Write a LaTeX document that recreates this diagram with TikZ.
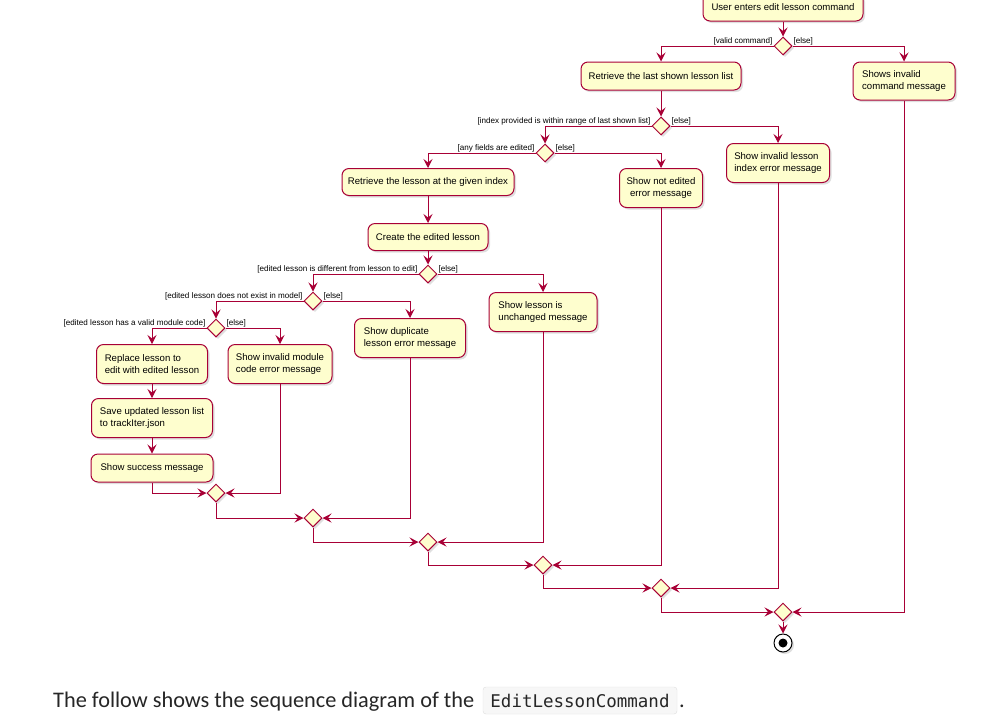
\documentclass[tikz,border=0pt]{standalone}
\usepackage{fontspec}
\setmainfont{Liberation Sans}
\newfontfamily\capfont{Carlito}
\newfontfamily\codefont{DejaVu Sans Mono}
\usetikzlibrary{shapes.geometric,arrows.meta,shadows}
\definecolor{umlred}{HTML}{A80036}
\definecolor{umlfill}{HTML}{FEFECE}
\tikzset{
  shad/.style={drop shadow={shadow xshift=2pt,shadow yshift=-2pt,opacity=0.25}},
  act/.style={draw=umlred, fill=umlfill, line width=1pt, rounded corners=7pt, inner sep=0pt,
    font=\fontsize{9.6}{11.5}\selectfont, align=left, shad},
  dia/.style={diamond, draw=umlred, fill=umlfill, line width=1pt, minimum width=18pt,
    minimum height=18pt, inner sep=0pt, shad},
  lbl/.style={font=\fontsize{8.1}{9.5}\selectfont, inner sep=0.8pt},
  flow/.style={draw=umlred, line width=0.9pt, -{Stealth[length=9pt,width=9pt,inset=3.5pt]}},
}
\begin{document}
\begin{tikzpicture}[x=1pt,y=-1pt]
\useasboundingbox (0,0) rectangle (990,721);
\fill[white] (0,0) rectangle (990,721);

% activities
\node[act, minimum width=160pt, minimum height=28pt] (start) at (783,7) {User enters edit lesson command};
\node[dia] (d1) at (783,46) {};
\node[act, minimum width=160pt, minimum height=28pt] (rlist) at (661,76) {Retrieve the last shown lesson list};
\node[act, minimum width=102pt, minimum height=38pt] (cmdinv) at (904,81) {Shows invalid\\command message};
\node[dia] (d2) at (661,126) {};
\node[act, minimum width=103pt, minimum height=39pt] (invidx) at (778,163) {Show invalid lesson\\index error message};
\node[dia] (d3) at (545,153) {};
\node[act, minimum width=83pt, minimum height=39pt, align=center] (notedit) at (661,188) {Show not edited\\error message};
\node[act, minimum width=172pt, minimum height=27pt] (ridx) at (428,182) {Retrieve the lesson at the given index};
\node[act, minimum width=120pt, minimum height=27pt] (create) at (428,237) {Create the edited lesson};
\node[dia] (d4) at (428,274) {};
\node[act, minimum width=108pt, minimum height=39pt] (unch) at (543,312) {Show lesson is\\unchanged message};
\node[dia] (d5) at (313,301) {};
\node[act, minimum width=111pt, minimum height=39pt] (dup) at (410,338) {Show duplicate\\lesson error message};
\node[dia] (d6) at (216,328) {};
\node[act, minimum width=111pt, minimum height=39pt] (repl) at (152,364) {Replace lesson to\\edit with edited lesson};
\node[act, minimum width=104pt, minimum height=39pt] (invmod) at (280,364) {Show invalid module\\code error message};
\node[act, minimum width=121pt, minimum height=39pt] (save) at (152,418) {Save updated lesson list\\to trackIter.json};
\node[act, minimum width=122pt, minimum height=28pt] (succ) at (152,468) {Show success message};

% merges
\node[dia] (m7) at (216,493) {};
\node[dia] (m8) at (313,518) {};
\node[dia] (m9) at (428,542) {};
\node[dia] (m10) at (543,565) {};
\node[dia] (m11) at (661,588) {};
\node[dia] (m12) at (783,612) {};
\node[circle, draw=black, fill=white, line width=1pt, minimum size=18pt, inner sep=0pt, shad] (end) at (783,643) {};
\fill[black] (end.center) circle (4.5pt);

% guards
\node[lbl, anchor=south east] at (d1.west) {[valid command]};
\node[lbl, anchor=south west] at (d1.east) {[else]};
\node[lbl, anchor=south east] at (d2.west) {[index provided is within range of last shown list]};
\node[lbl, anchor=south west] at (d2.east) {[else]};
\node[lbl, anchor=south east] at (d3.west) {[any fields are edited]};
\node[lbl, anchor=south west] at (d3.east) {[else]};
\node[lbl, anchor=south east] at (d4.west) {[edited lesson is different from lesson to edit]};
\node[lbl, anchor=south west] at (d4.east) {[else]};
\node[lbl, anchor=south east] at (d5.west) {[edited lesson does not exist in model]};
\node[lbl, anchor=south west] at (d5.east) {[else]};
\node[lbl, anchor=south east] at (d6.west) {[edited lesson has a valid module code]};
\node[lbl, anchor=south west] at (d6.east) {[else]};

% flows
\draw[flow] (start) -- (d1);
\draw[flow] (d1.west) -| (rlist);
\draw[flow] (d1.east) -| (cmdinv);
\draw[flow] (rlist) -- (d2);
\draw[flow] (d2.west) -| (d3);
\draw[flow] (d2.east) -| (invidx);
\draw[flow] (d3.west) -| (ridx);
\draw[flow] (d3.east) -| (notedit);
\draw[flow] (ridx) -- (create);
\draw[flow] (create) -- (d4);
\draw[flow] (d4.west) -| (d5);
\draw[flow] (d4.east) -| (unch);
\draw[flow] (d5.west) -| (d6);
\draw[flow] (d5.east) -| (dup);
\draw[flow] (d6.west) -| (repl);
\draw[flow] (d6.east) -| (invmod);
\draw[flow] (repl) -- (save);
\draw[flow] (save) -- (succ);
\draw[flow] (succ.south) |- (m7.west);
\draw[flow] (invmod.south) |- (m7.east);
\draw[flow] (m7.south) |- (m8.west);
\draw[flow] (dup.south) |- (m8.east);
\draw[flow] (m8.south) |- (m9.west);
\draw[flow] (unch.south) |- (m9.east);
\draw[flow] (m9.south) |- (m10.west);
\draw[flow] (notedit.south) |- (m10.east);
\draw[flow] (m10.south) |- (m11.west);
\draw[flow] (invidx.south) |- (m11.east);
\draw[flow] (m11.south) |- (m12.west);
\draw[flow] (cmdinv.south) |- (m12.east);
\draw[flow] (m12) -- (end);

% caption
\node[anchor=base west, inner sep=0pt, font=\capfont\fontsize{22.3}{25}\selectfont, text=black!85] (cap) at (53,707) {The follow shows the sequence diagram of the};
\node[draw=black!12, fill=black!3, rounded corners=3pt, minimum width=194pt, minimum height=27pt, inner sep=0pt, font=\codefont\fontsize{17.5}{20}\selectfont, text=black!85] (code) at (580,700.5) {EditLessonCommand};
\node[anchor=base west, inner sep=0pt, font=\capfont\fontsize{22.3}{25}\selectfont, text=black!85] (dot) at (679,707) {.};
\end{tikzpicture}
\end{document}
